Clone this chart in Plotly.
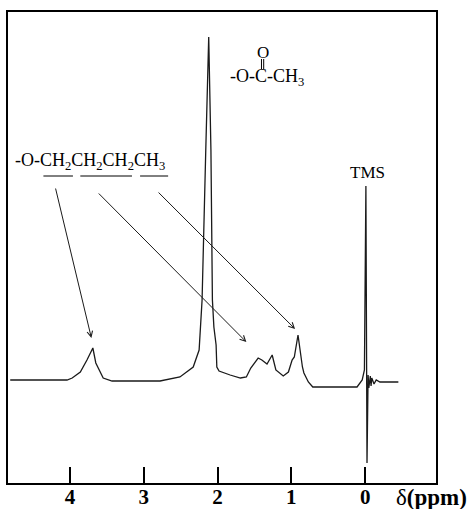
import plotly.graph_objects as go

# Spectrum: chemical shift (ppm) and intensity (arbitrary units)
shift_ppm = [4.81, 4.04, 3.97, 3.86, 3.77, 3.69, 3.65, 3.59, 3.55, 3.43, 2.78, 2.51, 2.33, 2.25,
             2.21, 2.16, 2.12, 2.09, 2.07, 2.05, 2.02, 2.01, 1.98, 1.83, 1.69, 1.61, 1.55, 1.45,
             1.40, 1.33, 1.26, 1.21, 1.11, 1.04, 0.99, 0.96, 0.91, 0.85, 0.83, 0.77, 0.71, 0.11,
             0.04, 0.01, -0.01, -0.025, -0.04, -0.05, -0.07, -0.08, -0.09, -0.12, -0.15, -0.20, -0.45]
intensity = [103, 103, 105, 111, 123, 135, 120, 110, 105, 102, 102, 106, 116, 133,
             183, 333, 446, 333, 183, 156, 138, 116, 112, 108, 105, 106, 115, 125,
             123, 119, 128, 113, 107, 111, 123, 126, 148, 116, 110, 101, 96, 96,
             103, 113, 297, 20, 108, 95, 107, 97, 105, 99, 103, 101, 101]

tick_vals = [4, 3, 2, 1, 0]
tick_text = ["4", "3", "2", "1", "0"]

serif = "Liberation Serif"

fig = go.Figure()
fig.add_trace(go.Scatter(x=shift_ppm, y=intensity, mode="lines",
                         line=dict(color="#1a1a1a", width=1.3), showlegend=False,
                         hoverinfo="skip"))

fig.update_xaxes(range=[4.84, -0.96], showline=True, mirror=True, linecolor="black",
                 linewidth=2, ticks="inside", ticklen=16, tickwidth=2, tickcolor="black",
                 tickvals=tick_vals, ticktext=tick_text, showgrid=False, zeroline=False,
                 automargin=False, ticklabelstandoff=-6,
                 tickfont=dict(family=serif, size=21, color="black", weight="bold"))
fig.update_yaxes(range=[0, 471], showline=True, mirror=True, linecolor="black",
                 linewidth=2, showticklabels=False, ticks="", showgrid=False, zeroline=False,
                 automargin=False)

ann = []
# butyl group label
ann.append(dict(x=4.77, y=322, xref="x", yref="y", xanchor="left", yanchor="middle",
                text="-O-CH<sub>2</sub>CH<sub>2</sub>CH<sub>2</sub>CH<sub>3</sub>",
                showarrow=False, font=dict(family=serif, size=18, color="black")))
# acetate label
ann.append(dict(x=1.33, y=406, xref="x", yref="y", xanchor="center", yanchor="middle",
                text="-O-C-CH<sub>3</sub>", showarrow=False,
                font=dict(family=serif, size=18, color="black")))
ann.append(dict(x=1.39, y=431, xref="x", yref="y", xanchor="center", yanchor="middle",
                text="O", showarrow=False, font=dict(family=serif, size=17, color="black")))
# TMS
ann.append(dict(x=-0.03, y=311, xref="x", yref="y", xanchor="center", yanchor="middle",
                text="TMS", showarrow=False, font=dict(family=serif, size=17, color="black")))
# axis title
ann.append(dict(x=1.0, y=-0.0, xref="paper", yref="paper", xanchor="left", yanchor="top",
                xshift=-42, yshift=0, text="δ<b>(ppm)</b>", showarrow=False,
                font=dict(family=serif, size=23, color="black")))
# arrows (tail -> head)
arrows = [((4.20, 296), (3.71, 145)), ((3.63, 291), (1.61, 141)), ((2.82, 292), (0.95, 154))]
for (tx, ty), (hx, hy) in arrows:
    ann.append(dict(x=hx, y=hy, ax=tx, ay=ty, xref="x", yref="y", axref="x", ayref="y",
                    showarrow=True, arrowhead=5, arrowsize=1.1, arrowwidth=1,
                    arrowcolor="#1a1a1a", text=""))
fig.update_layout(annotations=ann)

# underlines below the formula groups and C=O double bond
shapes = []
for x0, x1 in [(4.36, 3.96), (3.86, 3.16), (3.05, 2.67)]:
    shapes.append(dict(type="line", xref="x", yref="y", x0=x0, x1=x1, y0=307, y1=307,
                       line=dict(color="black", width=1)))
for xx in [1.405, 1.375]:
    shapes.append(dict(type="line", xref="x", yref="y", x0=xx, x1=xx, y0=414, y1=424,
                       line=dict(color="black", width=1)))
fig.update_layout(shapes=shapes)

fig.update_layout(width=473, height=509, margin=dict(l=8, r=37, t=12, b=26),
                  paper_bgcolor="white", plot_bgcolor="white")

fig.write_html("out.html")
